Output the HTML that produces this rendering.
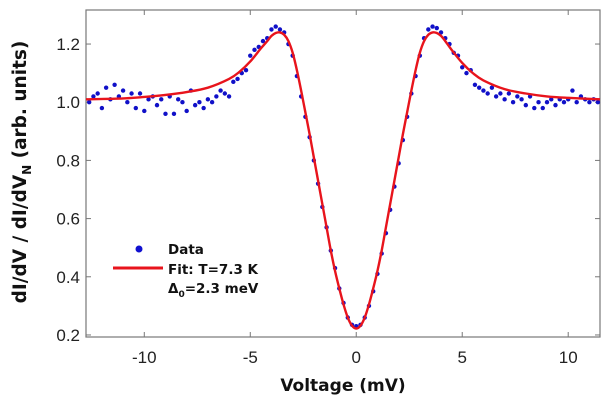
<!DOCTYPE html>
<html><head><meta charset="utf-8"><style>
html,body{margin:0;padding:0;background:#fff;}
svg{display:block;font-family:"Liberation Sans",sans-serif;}
.tl{font-size:17px;fill:#222;}
.b{font-family:"DejaVu Sans","Liberation Sans",sans-serif;font-weight:bold;fill:#111;}
</style></head><body>
<svg id="chart" width="609" height="400" viewBox="0 0 609 400">
<g id="plot"></g>
<text class="b" x="343" y="391" font-size="17" text-anchor="middle">Voltage (mV)</text>
<text class="b" transform="translate(26,172) rotate(-90)" font-size="18.5" text-anchor="middle">dI/dV / dI/dV<tspan font-size="12" dy="5">N</tspan><tspan dy="-5"> (arb. units)</tspan></text>
<g>
<circle cx="139" cy="249" r="3.5" fill="#1010d0"/>
<text class="b" x="168" y="254" font-size="13.5">Data</text>
<line x1="113" y1="268" x2="163" y2="268" stroke="#e8141c" stroke-width="3"/>
<text class="b" x="168" y="274" font-size="13.5">Fit: T=7.3 K</text>
<text class="b" x="168" y="293" font-size="13.5">Δ<tspan font-size="9" dy="4">0</tspan><tspan dy="-4">=2.3 meV</tspan></text>
</g>
</svg>
<script>
const dataV = [-12.6,-12.4,-12.2,-12.0,-11.8,-11.6,-11.4,-11.2,-11.0,-10.8,-10.6,-10.4,-10.2,-10.0,-9.8,-9.6,-9.4,-9.2,-9.0,-8.8,-8.6,-8.4,-8.2,-8.0,-7.8,-7.6,-7.4,-7.2,-7.0,-6.8,-6.6,-6.4,-6.2,-6.0,-5.8,-5.6,-5.4,-5.2,-5.0,-4.8,-4.6,-4.4,-4.2,-4.0,-3.8,-3.6,-3.4,-3.2,-3.0,-2.8,-2.6,-2.4,-2.2,-2.0,-1.8,-1.6,-1.4,-1.2,-1.0,-0.8,-0.6,-0.4,-0.2,0.0,0.2,0.4,0.6,0.8,1.0,1.2,1.4,1.6,1.8,2.0,2.2,2.4,2.6,2.8,3.0,3.2,3.4,3.6,3.8,4.0,4.2,4.4,4.6,4.8,5.0,5.2,5.4,5.6,5.8,6.0,6.2,6.4,6.6,6.8,7.0,7.2,7.4,7.6,7.8,8.0,8.2,8.4,8.6,8.8,9.0,9.2,9.4,9.6,9.8,10.0,10.2,10.4,10.6,10.8,11.0,11.2,11.4];
const dataG = [1.00,1.02,1.03,0.98,1.05,1.01,1.06,1.02,1.04,1.00,1.03,0.98,1.03,0.97,1.01,1.02,0.99,1.01,0.96,1.02,0.96,1.01,1.00,0.97,1.04,0.99,1.00,0.98,1.01,1.00,1.02,1.04,1.03,1.02,1.07,1.08,1.10,1.11,1.16,1.18,1.19,1.21,1.22,1.25,1.26,1.25,1.24,1.20,1.16,1.09,1.02,0.95,0.88,0.80,0.72,0.64,0.57,0.49,0.43,0.36,0.31,0.26,0.235,0.23,0.235,0.26,0.30,0.35,0.41,0.48,0.55,0.63,0.71,0.79,0.87,0.95,1.03,1.09,1.16,1.22,1.25,1.26,1.255,1.24,1.22,1.20,1.17,1.16,1.12,1.10,1.11,1.06,1.05,1.04,1.03,1.05,1.02,1.03,1.01,1.03,1.00,1.02,1.01,0.99,1.02,0.98,1.00,0.98,1.00,1.01,0.99,1.01,1.00,1.01,1.04,1.00,1.02,1.01,1.00,1.01,1.00];
const fitV = [-12.75,-11,-10,-9,-8,-7,-6,-5.5,-5,-4.5,-4.2,-4,-3.8,-3.6,-3.4,-3.2,-3,-2.8,-2.6,-2.4,-2.2,-2,-1.8,-1.6,-1.4,-1.2,-1,-0.8,-0.6,-0.4,-0.2,0,0.2,0.4,0.6,0.8,1,1.2,1.4,1.6,1.8,2,2.2,2.4,2.6,2.8,3,3.2,3.4,3.6,3.8,4,4.2,4.5,5,5.5,6,7,8,9,10,11.5];
const fitG = [1.01,1.013,1.018,1.025,1.035,1.05,1.08,1.105,1.14,1.185,1.21,1.228,1.238,1.24,1.232,1.21,1.17,1.11,1.04,0.965,0.89,0.81,0.73,0.65,0.57,0.49,0.42,0.36,0.305,0.26,0.232,0.222,0.232,0.26,0.305,0.36,0.42,0.49,0.57,0.65,0.73,0.81,0.89,0.965,1.04,1.11,1.17,1.21,1.232,1.24,1.238,1.228,1.21,1.18,1.135,1.10,1.075,1.045,1.03,1.02,1.015,1.01];
const xTicks = [-10,-5,0,5,10];
const yTicks = [0.2,0.4,0.6,0.8,1.0,1.2];

const L=86,R=600,T=10,B=337;
const xMin=-12.75,xMax=11.5,yMin=0.193,yMax=1.317;
const sx=v=>L+(v-xMin)/(xMax-xMin)*(R-L);
const sy=v=>B-(v-yMin)/(yMax-yMin)*(B-T);
const NS="http://www.w3.org/2000/svg";
const g=document.getElementById('plot');
function mk(tag,attrs,parent){const e=document.createElementNS(NS,tag);for(const k in attrs)e.setAttribute(k,attrs[k]);(parent||g).appendChild(e);return e;}

const frame=mk('rect',{x:L,y:T,width:R-L,height:B-T,fill:'none',stroke:'#777','stroke-width':1.2});



xTicks.forEach(t=>{
  const x=sx(t);
  mk('line',{x1:x,y1:B,x2:x,y2:B-5,stroke:'#777'});
  mk('line',{x1:x,y1:T,x2:x,y2:T+5,stroke:'#777'});
  const tx=mk('text',{x:x,y:B+26,'text-anchor':'middle',class:'tl'});
  tx.textContent=t;
  
  
});
yTicks.forEach(t=>{
  const y=sy(t);
  mk('line',{x1:L,y1:y,x2:L+5,y2:y,stroke:'#777'});
  mk('line',{x1:R,y1:y,x2:R-5,y2:y,stroke:'#777'});
  const tx=mk('text',{x:L-6,y:y+6,'text-anchor':'end',class:'tl'});
  tx.textContent=t.toFixed(1);
  
  
});

const dots=mk('g',{});


dataV.forEach((v,i)=>{
  const c=mk('circle',{cx:sx(v),cy:sy(dataG[i]),r:2.2,fill:'#1010c8'},dots);
  
  
});

const pts=fitV.map((v,i)=>[sx(v),sy(fitG[i])]);
let d='M'+pts[0][0]+','+pts[0][1];
for(let i=0;i<pts.length-1;i++){
  const p0=pts[Math.max(0,i-1)],p1=pts[i],p2=pts[i+1],p3=pts[Math.min(pts.length-1,i+2)];
  const c1=[p1[0]+(p2[0]-p0[0])/6,p1[1]+(p2[1]-p0[1])/6];
  const c2=[p2[0]-(p3[0]-p1[0])/6,p2[1]-(p3[1]-p1[1])/6];
  d+=' C'+c1[0]+','+c1[1]+' '+c2[0]+','+c2[1]+' '+p2[0]+','+p2[1];
}
const fit=mk('path',{d:d,fill:'none',stroke:'#e8141c','stroke-width':2.4});


</script>
</body></html>
